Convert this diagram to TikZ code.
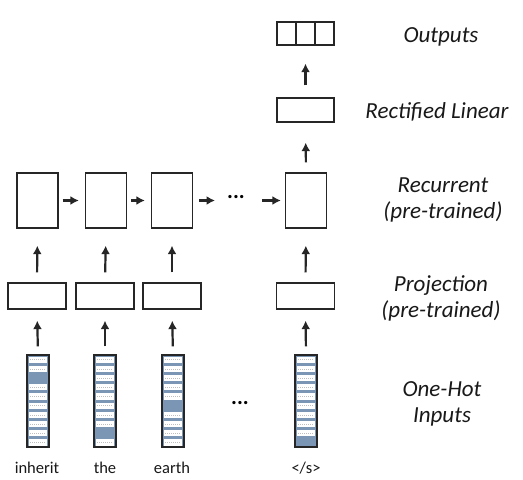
\documentclass[tikz,border=0pt]{standalone}
\usepackage{fontspec}
\setmainfont{Carlito}
\usetikzlibrary{arrows.meta,shadows}
\definecolor{hotblue}{HTML}{7B96B4}
\definecolor{boxline}{HTML}{262626}
\definecolor{shadowblue}{HTML}{8FA3BC}
\tikzset{
  box/.style={draw=boxline, line width=1.3pt, rectangle, inner sep=0pt, fill=white,
    drop shadow={shadow xshift=0.6pt, shadow yshift=-1.4pt, fill=shadowblue, opacity=0.8}},
  arr/.style={-{Latex[length=8.5pt,width=9pt]}, line width=2.2pt, draw=boxline},
  lab/.style={font=\itshape\fontsize{23}{26}\selectfont, align=center, inner sep=0pt, text=black!90},
  word/.style={font=\fontsize{16.5}{19}\selectfont, inner sep=0pt, text=black!90},
  dots/.style={font=\bfseries\fontsize{22}{19}\selectfont, inner sep=0pt},
  recbox/.style={box, minimum width=41pt, minimum height=55pt},
  projbox/.style={box, minimum width=58pt, minimum height=26pt},
}
\newcommand\ohcol[3]{%
  \node[box, fill=hotblue, minimum width=22pt, minimum height=92pt] (#1) at (#2,401) {};
  \foreach \i in {0,...,9}{%
    \ifnum\i=#3\relax\else
      \fill[white] (#2-9.2, 355+\i*9.2+1.5) rectangle (#2+9.2, 355+\i*9.2+9.2-1.5);
      \draw[black!25, line width=0.5pt, dash pattern=on 1pt off 1pt] (#2-8, 355+\i*9.2+4.6) -- (#2+8, 355+\i*9.2+4.6);
    \fi}
  \draw[draw=boxline, line width=1.3pt] (#1.north west) rectangle (#1.south east);
}
\begin{document}
\begin{tikzpicture}[x=1pt,y=-1pt]
\useasboundingbox[fill=white] (0,0) rectangle (523,480);

% outputs
\node[box, minimum width=57pt, minimum height=23pt] (out) at (305.5,33.5) {};
\draw[draw=boxline, line width=1.3pt] (296,22) -- (296,45) (315,22) -- (315,45);
% rectified linear
\node[box, minimum width=57pt, minimum height=24pt] (relu) at (305.5,110) {};

% recurrent
\node[recbox] (r1) at (37.5,200.5) {};
\node[recbox] (r2) at (106,200.5) {};
\node[recbox] (r3) at (172,200.5) {};
\node[recbox] (r4) at (306,200.5) {};
\node[dots] (rd) at (236,197) {...};

% projection
\node[projbox] (p1) at (37,296) {};
\node[projbox] (p2) at (105,296) {};
\node[projbox] (p3) at (172,296) {};
\node[projbox] (p4) at (305.5,296) {};

% one-hot
\ohcol{o1}{38}{2}
\ohcol{o2}{105}{8}
\ohcol{o3}{173}{5}
\ohcol{o4}{306}{9}
\node[dots] (od) at (240,403) {...};

% words
\node[word] (w1) at (37,468) {inherit};
\node[word] (w2) at (105,468) {the};
\node[word] (w3) at (172,468) {earth};
\node[word] (w4) at (306,468) {</s>};

% arrows one-hot -> projection
\foreach \a/\b in {o1/p1,o2/p2,o3/p3,o4/p4}
  \draw[arr, shorten <=8pt, shorten >=11pt] (\a.north) -- (\b.south);
% arrows projection -> recurrent
\foreach \a/\b in {p1/r1,p2/r2,p3/r3,p4/r4}
  \draw[arr, shorten <=10pt, shorten >=17pt] (\a.north) -- (\b.south);
% recurrent horizontal
\draw[arr, shorten <=4pt, shorten >=6pt] (r1.east) -- (r2.west);
\draw[arr, shorten <=4pt, shorten >=6pt] (r2.east) -- (r3.west);
\coordinate (rdl) at (215,200.5);
\draw[arr, shorten <=6pt] (r3.east) -- (rdl);
\coordinate (rdr) at (262,200.5);
\draw[arr, shorten >=4pt] (rdr) -- (r4.west);
% up the stack
\draw[arr, shorten <=10pt, shorten >=20pt] (r4.north) -- (relu.south);
\draw[arr, shorten <=12pt, shorten >=18pt] (relu.north) -- (out.south);

% right labels
\node[lab] (lout) at (441,37) {Outputs};
\node[lab] (lrelu) at (437,112) {Rectified Linear};
\node[lab] (lrec) at (443,200) {Recurrent\\(pre-trained)};
\node[lab] (lproj) at (441,298) {Projection\\(pre-trained)};
\node[lab] (lhot) at (442,404) {One-Hot\\Inputs};
\end{tikzpicture}
\end{document}
